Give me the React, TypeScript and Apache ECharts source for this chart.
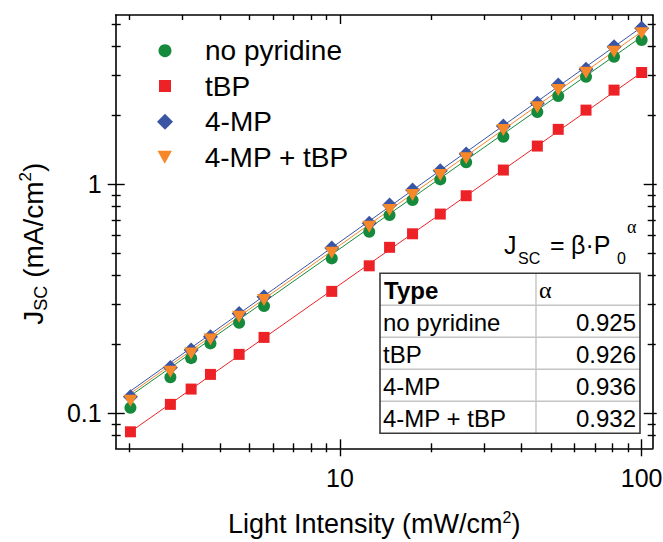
import React, { useEffect, useRef } from 'react';
import * as echarts from 'echarts';

// ---- data ----
const lightIntensity = [2.02, 2.74, 3.21, 3.72, 4.63, 5.6, 9.39, 12.5, 14.6, 17.4, 21.5, 26.2, 34.8, 45.1, 52.9, 65.4, 81.0, 100];
const noPyridine = [0.1058, 0.1437, 0.1743, 0.2021, 0.2486, 0.2941, 0.4752, 0.6209, 0.7343, 0.8539, 1.0515, 1.248, 1.614, 2.069, 2.43, 2.951, 3.608, 4.267];
const tBP = [0.0831, 0.1095, 0.1277, 0.148, 0.181, 0.2147, 0.341, 0.441, 0.531, 0.6085, 0.742, 0.892, 1.155, 1.47, 1.739, 2.11, 2.58, 3.08];
const mp4 = [0.1181, 0.1588, 0.189, 0.216, 0.2733, 0.3229, 0.527, 0.6757, 0.8121, 0.9443, 1.1465, 1.356, 1.797, 2.258, 2.714, 3.178, 3.99, 4.8];
const mp4tBP = [0.1135, 0.1519, 0.1824, 0.2104, 0.2641, 0.3125, 0.5027, 0.653, 0.7721, 0.898, 1.098, 1.299, 1.726, 2.169, 2.581, 3.072, 3.793, 4.564];

// fitted power-law lines: end points
const fitX = [2.02, 100];
const fitNoPyridine = [0.1194, 4.41];
const fitTBP = [0.0831, 3.08];
const fit4MP = [0.1252, 4.86];
const fit4MPtBP = [0.1222, 4.64];

const seriesNames = ['no pyridine', 'tBP', '4-MP', '4-MP + tBP'];
const alphaValues = ['0.925', '0.926', '0.936', '0.932'];

const xMajorTicks = [10, 100];
const xMinorTicks = [2, 3, 4, 5, 6, 7, 8, 9, 20, 30, 40, 50, 60, 70, 80, 90];
const yMajorTicks = [0.1, 1];
const yMinorTicks = [0.08, 0.09, 0.2, 0.3, 0.4, 0.5, 0.6, 0.7, 0.8, 0.9, 2, 3, 4, 5];

const X_MIN = 1.805;
const X_MAX = 108.8;
const Y_MIN = 0.0704;
const Y_MAX = 5.49;

const FONT = '"Liberation Sans", Arial, Helvetica, sans-serif';
const COLORS = ['#168a3c', '#ec2227', '#3b55a5', '#f6882a'];
const TRI_DOWN = 'path://M0,0L20,0L10,18Z';

function pairs(xs: number[], ys: number[]) {
  return xs.map((x, i) => [x, ys[i]]);
}

export default function App() {
  const ref = useRef<HTMLDivElement>(null);

  useEffect(() => {
    if (!ref.current) return;
    const chart = echarts.init(ref.current, null, { renderer: 'svg' });

    const tickLine = { color: '#000', width: 1.4 };

    const makeAxis = (
      dim: 'x' | 'y',
      position: string,
      opts: { line?: boolean; ticks: number[]; inside: boolean; length: number; labels?: number[] }
    ) => {
      const isX = dim === 'x';
      const axis: any = {
        type: 'log',
        logBase: 10,
        min: isX ? X_MIN : Y_MIN,
        max: isX ? X_MAX : Y_MAX,
        position,
        gridIndex: 0,
        splitLine: { show: false },
        minorTick: { show: false },
        axisLine: { show: !!opts.line, onZero: false, lineStyle: { color: '#000', width: 1.6 } },
        axisTick: {
          show: true,
          inside: opts.inside,
          length: opts.length,
          customValues: opts.ticks,
          lineStyle: tickLine,
        },
        axisLabel: opts.labels
          ? {
              show: true,
              customValues: opts.labels,
              fontFamily: FONT,
              fontSize: 25,
              color: '#000',
              margin: isX ? 17 : 14,
              showMinLabel: true,
              showMaxLabel: true,
            }
          : { show: false },
        silent: true,
      };
      return axis;
    };

    const xAxes: any[] = [
      {
        ...makeAxis('x', 'bottom', { line: true, ticks: xMajorTicks, inside: false, length: 8, labels: xMajorTicks }),
        name: '{m|Light Intensity (mW/cm}{p|2}{m|)}',
        nameLocation: 'middle',
        nameGap: 61,
        nameMoveOverlap: false,
        nameTextStyle: {
          padding: [0, 20, 0, 0],
          rich: {
            m: { fontFamily: FONT, fontSize: 27, color: '#000' },
            p: { fontFamily: FONT, fontSize: 16, color: '#000', padding: [0, 0, 14, 0] },
          },
        },
      },
      makeAxis('x', 'bottom', { ticks: xMajorTicks, inside: true, length: 9 }),
      makeAxis('x', 'bottom', { ticks: xMinorTicks, inside: false, length: 4 }),
      makeAxis('x', 'bottom', { ticks: xMinorTicks, inside: true, length: 5 }),
      makeAxis('x', 'top', { line: true, ticks: xMajorTicks, inside: true, length: 9 }),
      makeAxis('x', 'top', { ticks: xMinorTicks, inside: true, length: 5 }),
    ];

    const yAxes: any[] = [
      {
        ...makeAxis('y', 'left', { line: true, ticks: yMajorTicks, inside: false, length: 8, labels: yMajorTicks }),
        name: '{m|J}{s|SC}{m| (mA/cm}{p|2}{m|)}',
        nameLocation: 'middle',
        nameRotate: 90,
        nameGap: 66,
        nameMoveOverlap: false,
        nameTextStyle: {
          padding: [0, 24, 0, 0],
          rich: {
            m: { fontFamily: FONT, fontSize: 28, color: '#000' },
            s: { fontFamily: FONT, fontSize: 18, color: '#000', padding: [15, 0, 0, 0] },
            p: { fontFamily: FONT, fontSize: 17, color: '#000', padding: [0, 0, 15, 0] },
          },
        },
      },
      makeAxis('y', 'left', { ticks: yMajorTicks, inside: true, length: 9 }),
      makeAxis('y', 'left', { ticks: yMinorTicks, inside: false, length: 4 }),
      makeAxis('y', 'left', { ticks: yMinorTicks, inside: true, length: 5 }),
      makeAxis('y', 'right', { line: true, ticks: yMajorTicks, inside: true, length: 9 }),
      makeAxis('y', 'right', { ticks: yMinorTicks, inside: true, length: 5 }),
      makeAxis('y', 'right', { ticks: yMajorTicks, inside: false, length: 4 }),
      makeAxis('y', 'right', { ticks: yMinorTicks, inside: false, length: 3 }),
    ];

    const pointSets = [noPyridine, tBP, mp4, mp4tBP];
    const fitSets = [fitNoPyridine, fitTBP, fit4MP, fit4MPtBP];
    const symbols = ['circle', 'rect', 'diamond', TRI_DOWN];
    const sizes: any[] = [12, 11, [15, 15], [14, 12]];

    const lineSeries = fitSets.map((f, i) => ({
      type: 'line',
      name: seriesNames[i] + ' fit',
      data: pairs(fitX, f),
      xAxisIndex: 0,
      yAxisIndex: 0,
      showSymbol: false,
      symbol: 'none',
      lineStyle: { color: COLORS[i], width: 1 },
      z: 1,
      silent: true,
    }));

    const scatterSeries = pointSets.map((s, i) => ({
      type: 'scatter',
      name: seriesNames[i],
      data: pairs(lightIntensity, s),
      xAxisIndex: 0,
      yAxisIndex: 0,
      symbol: symbols[i],
      symbolSize: sizes[i],
      symbolKeepAspect: false,
      itemStyle: { color: COLORS[i], opacity: 1 },
      z: 3 + i,
      silent: true,
    }));

    const legendTops = [50.7, 86, 121.7, 157.3];
    const legendIcon = [[13, 13], [12, 12], [16, 16], [15, 13]];
    const markerX = 165;
    const textX = 205;
    const legends = seriesNames.map((n, i) => {
      const [w, h] = legendIcon[i];
      const left = markerX - w / 2;
      return {
        data: [n],
        left,
        top: legendTops[i] - 15,
        orient: 'vertical',
        itemWidth: w,
        itemHeight: h,
        itemGap: 0,
        padding: 0,
        selectedMode: false,
        textStyle: {
          fontFamily: FONT,
          fontSize: 28,
          color: '#000',
          lineHeight: 30,
          padding: [0, 0, 0, textX - (left + w + 5)],
        },
      };
    });

    // table
    const tLeft = 380;
    const tRight = 640;
    const tTop = 273.3;
    const rowH = 32;
    const colX = 536;
    const tBottom = tTop + rowH * 5;
    const tableEls: any[] = [
      {
        type: 'rect',
        shape: { x: tLeft, y: tTop, width: tRight - tLeft, height: tBottom - tTop },
        style: { fill: '#fff', stroke: 'none' },
        z: 10,
      },
    ];
    for (let r = 1; r < 5; r++) {
      tableEls.push({
        type: 'line',
        shape: { x1: tLeft, y1: tTop + r * rowH, x2: tRight, y2: tTop + r * rowH },
        style: { stroke: '#c4c4c4', lineWidth: 1.4 },
        z: 11,
      });
    }
    tableEls.push({
      type: 'line',
      shape: { x1: colX, y1: tTop, x2: colX, y2: tBottom },
      style: { stroke: '#c4c4c4', lineWidth: 1.4 },
      z: 11,
    });
    tableEls.push({
      type: 'rect',
      shape: { x: tLeft, y: tTop, width: tRight - tLeft, height: tBottom - tTop },
      style: { fill: 'none', stroke: '#3a3a3a', lineWidth: 1.6 },
      z: 12,
    });
    tableEls.push({
      type: 'text',
      x: tLeft + 4,
      y: tTop + rowH / 2 + 1,
      style: { text: 'Type', font: `bold 24px ${FONT}`, fill: '#000', textAlign: 'left', textVerticalAlign: 'middle' },
      z: 13,
    });
    tableEls.push({
      type: 'text',
      x: colX + 3,
      y: tTop + rowH / 2 + 1,
      style: { text: 'α', font: `24px "Liberation Serif", serif`, fill: '#000', textAlign: 'left', textVerticalAlign: 'middle' },
      z: 13,
    });
    seriesNames.forEach((n, i) => {
      const cy = tTop + rowH * (i + 1) + rowH / 2 + 1;
      tableEls.push({
        type: 'text',
        x: tLeft + 3,
        y: cy,
        style: { text: n, font: `24px ${FONT}`, fill: '#000', textAlign: 'left', textVerticalAlign: 'middle' },
        z: 13,
      });
      tableEls.push({
        type: 'text',
        x: tRight - 4,
        y: cy,
        style: { text: alphaValues[i], font: `24px ${FONT}`, fill: '#000', textAlign: 'right', textVerticalAlign: 'middle' },
        z: 13,
      });
    });

    // formula J_SC = β·P_0^α
    const fMain = `25px ${FONT}`;
    const fSub = `16px ${FONT}`;
    const txt = (x: number, y: number, text: string, font: string) => ({
      type: 'text',
      x,
      y,
      style: { text, font, fill: '#000', textAlign: 'left', textVerticalAlign: 'middle' },
    });
    const formulaEls: any[] = [
      txt(504, 245, 'J', fMain),
      txt(518, 258, 'SC', fSub),
      txt(550, 245, '=', fMain),
      txt(571, 245, 'β·P', fMain),
      txt(617, 258, '0', fSub),
      txt(627, 227, 'α', `18px "Liberation Serif", serif`),
    ];

    chart.setOption({
      animation: false,
      backgroundColor: '#fff',
      grid: {
        left: 115.7,
        right: 663 - 652.7,
        top: 15,
        bottom: 542 - 448.3,
        containLabel: false,
        outerBoundsMode: 'none',
      },
      xAxis: xAxes,
      yAxis: yAxes,
      legend: legends,
      series: [...lineSeries, ...scatterSeries],
      graphic: [...tableEls, ...formulaEls],
    });

    return () => chart.dispose();
  }, []);

  return <div ref={ref} style={{ position: 'absolute', left: 0, top: 0, width: 663, height: 542 }} />;
}
